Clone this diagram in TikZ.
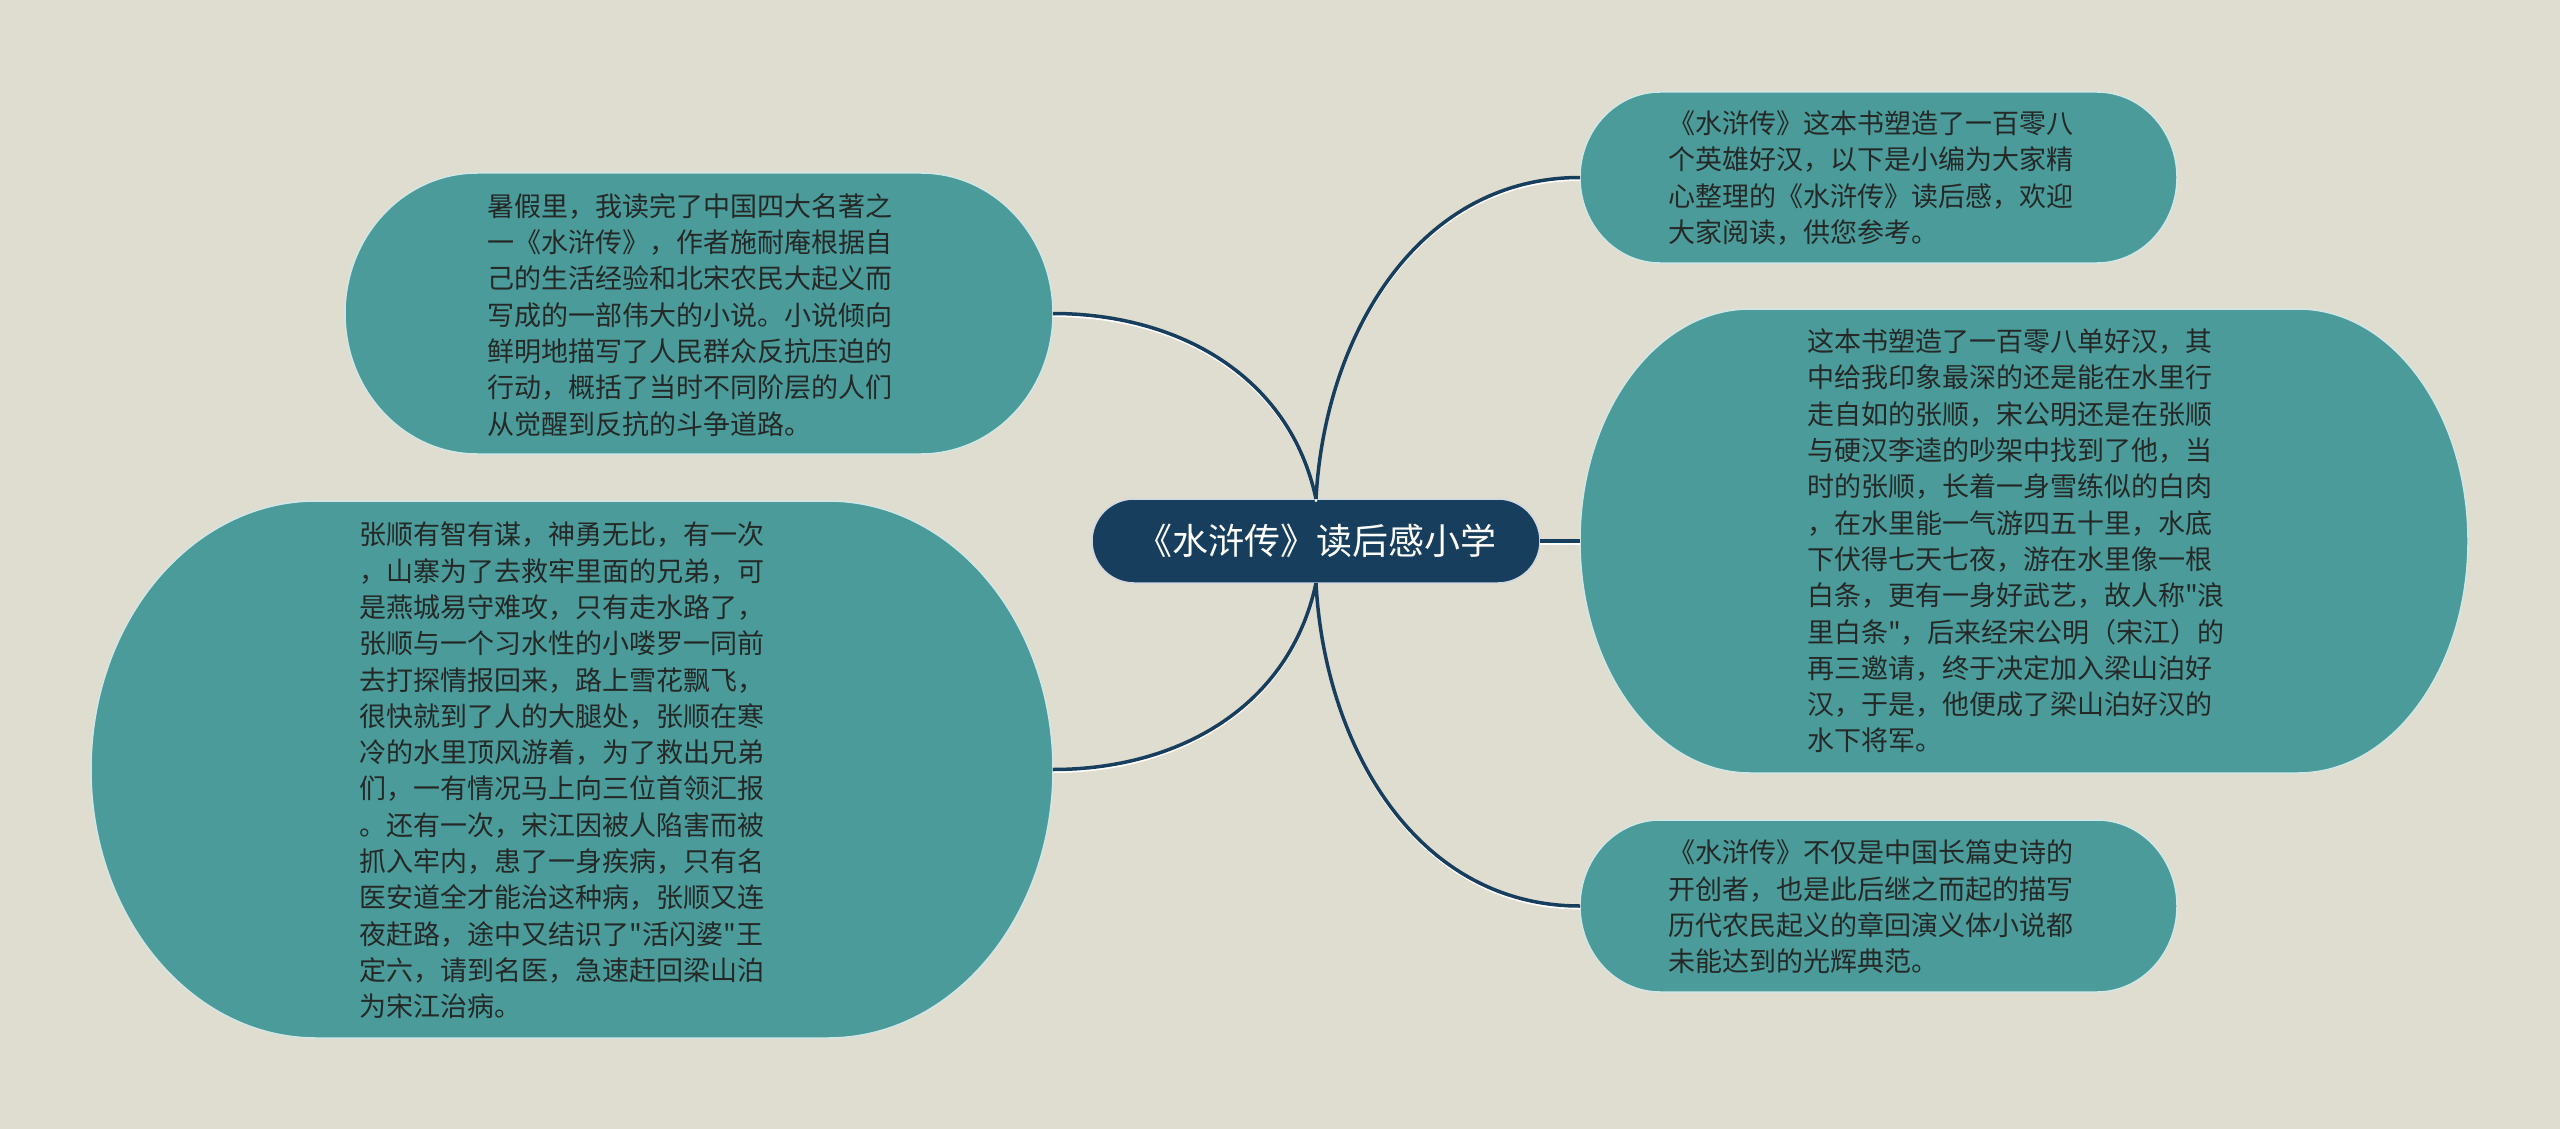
\documentclass[tikz,border=0pt]{standalone}
\usepackage{fontspec}
\newfontfamily\cjk{Noto Sans CJK SC}
\usetikzlibrary{calc,backgrounds}
\definecolor{bgc}{RGB}{223,221,207}
\definecolor{tealc}{RGB}{75,155,154}
\definecolor{navy}{RGB}{24,62,94}
\definecolor{txt}{RGB}{36,40,38}
\newcommand\capsule[4]{\path[#1] let \p1=(#2.north west), \p2=(#2.south east) in
  (\x1+#3,\y1) -- (\x2-#3,\y1) arc[start angle=90,end angle=-90,x radius=#3,y radius=#4]
  -- (\x1+#3,\y2) arc[start angle=270,end angle=90,x radius=#3,y radius=#4] -- cycle;}
\begin{document}
\begin{tikzpicture}[x=1pt,y=1pt,
  box/.style={draw=none,fill=none,inner sep=0pt,outer sep=0pt,rectangle},
  capfill/.style={fill=tealc,draw=white!75!tealc,line width=1.5pt},
  cenfill/.style={fill=navy,draw=white!80!navy,line width=1.5pt},
  body/.style={inner sep=0pt,align=left,text=txt,font=\cjk\fontsize{27}{36.3}\selectfont},
  link/.style={draw=navy,line width=3.5pt},
  halo/.style={draw=white,line width=2pt,transform canvas={yshift=-2.5pt}}]
\useasboundingbox (0,0) rectangle (2560,-1129);
% boxes
\node[box,minimum width=448pt,minimum height=84pt] (c) at (1316,-541) {};
\node[box,minimum width=708pt,minimum height=281pt] (n1) at (699,-313.5) {};
\node[box,minimum width=962pt,minimum height=537pt] (n2) at (572,-769.5) {};
\node[box,minimum width=597pt,minimum height=171pt] (n3) at (1878.5,-177.5) {};
\node[box,minimum width=888pt,minimum height=464pt] (n4) at (2024,-541) {};
\node[box,minimum width=597pt,minimum height=172pt] (n5) at (1878.5,-906) {};
\begin{scope}[on background layer]
\fill[bgc] (0,0) rectangle (2560,-1129);
\capsule{capfill}{n1}{132pt}{140.5pt}
\capsule{capfill}{n2}{225pt}{268.5pt}
\capsule{capfill}{n3}{80pt}{85.5pt}
\capsule{capfill}{n4}{170pt}{232pt}
\capsule{capfill}{n5}{80pt}{86pt}
\capsule{cenfill}{c}{42pt}{42pt}
\end{scope}
% connectors
\draw[halo] (c.north) to[out=102,in=0] (n1.east);
\draw[halo] (c.north) to[out=87,in=180] (n3.west);
\draw[halo] (c.south) to[out=-102,in=0] (n2.east);
\draw[halo] (c.south) to[out=-87,in=180] (n5.west);
\draw[halo] (c.east) -- (n4.west);
\draw[link] (c.north) to[out=102,in=0] (n1.east);
\draw[link] (c.north) to[out=87,in=180] (n3.west);
\draw[link] (c.south) to[out=-102,in=0] (n2.east);
\draw[link] (c.south) to[out=-87,in=180] (n5.west);
\draw[link] (c.east) -- (n4.west);
% texts
\node[inner sep=0pt,text=white,font=\cjk\fontsize{36}{40}\selectfont] (ct) at (1316,-541) {《水浒传》读后感小学};
\node[body] (t1) at (690,-315) {暑假里，我读完了中国四大名著之\\
一《水浒传》，作者施耐庵根据自\\
己的生活经验和北宋农民大起义而\\
写成的一部伟大的小说。小说倾向\\
鲜明地描写了人民群众反抗压迫的\\
行动，概括了当时不同阶层的人们\\
从觉醒到反抗的斗争道路。};
\node[body] (t2) at (562,-770.5) {张顺有智有谋，神勇无比，有一次\\
，山寨为了去救牢里面的兄弟，可\\
是燕城易守难攻，只有走水路了，\\
张顺与一个习水性的小喽罗一同前\\
去打探情报回来，路上雪花飘飞，\\
很快就到了人的大腿处，张顺在寒\\
冷的水里顶风游着，为了救出兄弟\\
们，一有情况马上向三位首领汇报\\
。还有一次，宋江因被人陷害而被\\
抓入牢内，患了一身疾病，只有名\\
医安道全才能治这种病，张顺又连\\
夜赶路，途中又结识了"活闪婆"王\\
定六，请到名医，急速赶回梁山泊\\
为宋江治病。};
\node[body] (t3) at (1871,-178) {《水浒传》这本书塑造了一百零八\\
个英雄好汉，以下是小编为大家精\\
心整理的《水浒传》读后感，欢迎\\
大家阅读，供您参考。};
\node[body] (t4) at (2016,-541) {这本书塑造了一百零八单好汉，其\\
中给我印象最深的还是能在水里行\\
走自如的张顺，宋公明还是在张顺\\
与硬汉李逵的吵架中找到了他，当\\
时的张顺，长着一身雪练似的白肉\\
，在水里能一气游四五十里，水底\\
下伏得七天七夜，游在水里像一根\\
白条，更有一身好武艺，故人称"浪\\
里白条"，后来经宋公明（宋江）的\\
再三邀请，终于决定加入梁山泊好\\
汉，于是，他便成了梁山泊好汉的\\
水下将军。};
\node[body] (t5) at (1871,-907) {《水浒传》不仅是中国长篇史诗的\\
开创者，也是此后继之而起的描写\\
历代农民起义的章回演义体小说都\\
未能达到的光辉典范。};
\end{tikzpicture}
\end{document}
